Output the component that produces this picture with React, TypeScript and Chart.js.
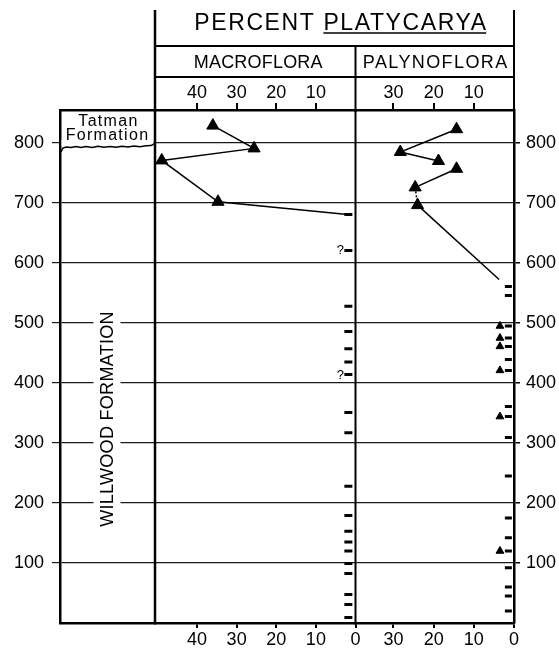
import React, { useEffect, useRef } from "react";
import { Chart, registerables } from "chart.js";
Chart.register(...registerables);

const FONT = "'Liberation Sans', Arial, Helvetica, sans-serif";

// Stratigraphic level (m) tick labels
const depthTicks = [100, 200, 300, 400, 500, 600, 700, 800];
const depthMax = 855;

// Percent axes
const macroTicksBottom = [40, 30, 20, 10, 0];
const macroTicksTop = [40, 30, 20, 10];
const macroMax = 50.6;
const palynoTicksBottom = [30, 20, 10, 0];
const palynoTicksTop = [30, 20, 10];
const palynoMax = 39.45;

// Macroflora percent Platycarya (last point is the line end, no marker)
const macroPercent = [36, 25.6, 48.9, 34.7, 2];
const macroDepth = [829, 791, 771, 702, 681];
const macroHasMarker = [true, true, true, true, false];

// Palynoflora percent Platycarya (last point is the line end, no marker)
const palynoPercent = [14.3, 28.3, 18.8, 14.3, 24.6, 24, 3.7];
const palynoDepth = [823, 785, 770, 757, 726, 696.5, 572.5];
const palynoHasMarker = [true, true, true, true, true, true, false];

// Samples without Platycarya (dashes)
const macroSampleValue = 1.8;
const macroSampleDepths = [681, 621, 528, 486, 457, 435, 414, 351, 317, 228, 179, 153, 135, 120, 99, 82.5, 47.5, 31, 9];
const macroQueryDepths = [621, 414];
const palynoSampleValue = 1.4;
const palynoSampleDepths = [561, 546, 495, 475, 461, 439, 421, 361, 344, 309, 245, 175, 142, 120, 92, 60, 45, 20];

// Trace occurrences (small triangles)
const palynoTraceValue = 3.5;
const palynoTraceDepths = [495, 475, 461, 421, 344, 120];

const wavyOffsets = [
  [1, 9], [3, 5], [6, 4], [11, 4.6], [16, 3.4], [21, 4.4], [26, 3.6], [32, 4.5], [38, 3.3],
  [44, 4.2], [50, 3.4], [56, 4.3], [62, 3.2], [68, 4], [74, 3.1], [80, 3.8], [86, 2.8], [91, 2.6], [94, 1],
];

const headerPlugin = {
  id: "header",
  afterDraw(chart: any) {
    const { ctx, chartArea, scales } = chart;
    const xm = scales.xm;
    const xp = scales.xp;
    const y = scales.y;
    const left = xm.left;
    const mid = xp.left;
    const right = xp.right;
    const top = chartArea.top;
    const bottom = chartArea.bottom;
    const colL = chartArea.left;
    const line = (x1: number, y1: number, x2: number, y2: number) => {
      ctx.beginPath();
      ctx.moveTo(x1, y1);
      ctx.lineTo(x2, y2);
      ctx.stroke();
    };
    ctx.save();
    ctx.strokeStyle = "#000";
    ctx.fillStyle = "#000";

    // Formation column: hide straight 800 line, draw unconformity
    const y800 = y.getPixelForValue(800);
    ctx.fillStyle = "#fff";
    ctx.fillRect(colL + 1.5, y800 - 3, left - colL - 3, 6);
    ctx.strokeStyle = "#000";
    ctx.lineWidth = 1.5;
    ctx.beginPath();
    wavyOffsets.forEach(([dx, dy], i) => {
      if (i === 0) ctx.moveTo(colL + dx, y800 + dy);
      else ctx.lineTo(colL + dx, y800 + dy);
    });
    ctx.stroke();

    ctx.fillStyle = "#000";
    ctx.textAlign = "center";
    ctx.textBaseline = "alphabetic";
    ctx.font = `16px ${FONT}`;
    (ctx as any).letterSpacing = "1.3px";
    const cx = (colL + left) / 2;
    ctx.fillText("Tatman", cx + 1, 126);
    ctx.fillText("Formation", cx, 140);

    // Willwood label with gap in grid lines
    ctx.fillStyle = "#fff";
    ctx.fillRect(cx - 14, 305, 27, 228);
    ctx.fillStyle = "#000";
    ctx.save();
    ctx.translate(cx + 0.5, 419);
    ctx.rotate(-Math.PI / 2);
    ctx.font = `18px ${FONT}`;
    (ctx as any).letterSpacing = "0.3px";
    ctx.textBaseline = "middle";
    ctx.fillText("WILLWOOD FORMATION", 0, 0);
    ctx.restore();

    // Frame lines
    ctx.lineWidth = 2.5;
    line(left, 10, left, bottom);
    ctx.lineWidth = 2;
    line(right, 10, right, top);
    line(left, 46, right, 46);
    line(left, 77, right, 77);
    line(mid, 46, mid, bottom);

    // Title
    ctx.font = `23px ${FONT}`;
    (ctx as any).letterSpacing = "1.6px";
    ctx.textAlign = "left";
    ctx.textBaseline = "alphabetic";
    const t1 = "PERCENT ";
    const t2 = "PLATYCARYA";
    const w1 = ctx.measureText(t1).width;
    const w2 = ctx.measureText(t2).width;
    const x0 = 341 - (w1 + w2) / 2;
    ctx.fillText(t1, x0, 30);
    ctx.fillText(t2, x0 + w1, 30);
    ctx.lineWidth = 1.5;
    line(x0 + w1, 33, x0 + w1 + w2 - 1.5, 33);

    ctx.font = `18px ${FONT}`;
    ctx.textAlign = "center";
    (ctx as any).letterSpacing = "0.2px";
    ctx.fillText("MACROFLORA", (left + mid) / 2 + 3, 68);
    (ctx as any).letterSpacing = "1.4px";
    ctx.fillText("PALYNOFLORA", (mid + right) / 2 + 1, 68);

    // Question marks beside uncertain samples
    (ctx as any).letterSpacing = "0px";
    ctx.font = `13px ${FONT}`;
    ctx.textAlign = "right";
    ctx.textBaseline = "middle";
    const qx = xm.getPixelForValue(macroSampleValue) - 4.5;
    macroQueryDepths.forEach((d) => {
      ctx.fillText("?", qx, y.getPixelForValue(d) + 0.5);
    });
    ctx.restore();
  },
};

const tickFont = { family: FONT, size: 18 };

function fixedTicks(values: number[]) {
  return (scale: any) => {
    scale.ticks = values.map((v) => ({ value: v }));
  };
}

export default function App() {
  const ref = useRef<HTMLCanvasElement | null>(null);
  useEffect(() => {
    if (!ref.current) return;
    const toPts = (xs: number[], ys: number[]) => xs.map((x, i) => ({ x, y: ys[i] }));
    const chart = new Chart(ref.current, {
      type: "scatter",
      data: {
        datasets: [
          {
            label: "Macroflora",
            data: toPts(macroPercent, macroDepth),
            xAxisID: "xm",
            yAxisID: "y",
            showLine: true,
            borderColor: "#000",
            borderWidth: 1.5,
            backgroundColor: "#000",
            pointStyle: "triangle",
            pointRadius: (c: any) => (macroHasMarker[c.dataIndex] ? 7 : 0),
            pointBorderWidth: 1,
          } as any,
          {
            label: "Palynoflora",
            data: toPts(palynoPercent, palynoDepth),
            xAxisID: "xp",
            yAxisID: "y",
            showLine: true,
            borderColor: "#000",
            borderWidth: 1.5,
            backgroundColor: "#000",
            pointStyle: "triangle",
            pointRadius: (c: any) => (palynoHasMarker[c.dataIndex] ? 7 : 0),
            pointBorderWidth: 1,
            segment: {
              borderColor: (c: any) => (c.p0DataIndex === 2 ? "rgba(0,0,0,0)" : "#000"),
              borderDash: (c: any) => (c.p0DataIndex === 4 ? [2, 2] : undefined),
            },
          } as any,
          {
            label: "Palynoflora trace",
            data: palynoTraceDepths.map((d) => ({ x: palynoTraceValue, y: d })),
            xAxisID: "xp",
            yAxisID: "y",
            pointStyle: "triangle",
            pointRadius: 4.5,
            backgroundColor: "#000",
            borderColor: "#000",
            pointBorderWidth: 1,
          } as any,
          {
            label: "Macroflora samples",
            data: macroSampleDepths.map((d) => ({ x: macroSampleValue, y: d })),
            xAxisID: "xm",
            yAxisID: "y",
            pointStyle: "line",
            pointRadius: 4,
            borderColor: "#000",
            pointBorderWidth: 3,
          } as any,
          {
            label: "Palynoflora samples",
            data: palynoSampleDepths.map((d) => ({ x: palynoSampleValue, y: d })),
            xAxisID: "xp",
            yAxisID: "y",
            pointStyle: "line",
            pointRadius: 3.5,
            borderColor: "#000",
            pointBorderWidth: 3,
          } as any,
        ],
      },
      options: {
        responsive: false,
        maintainAspectRatio: false,
        devicePixelRatio: 1,
        animation: false,
        layout: { padding: { top: 78, left: 0, right: 0, bottom: 0 } },
        plugins: { legend: { display: false }, tooltip: { enabled: false }, title: { display: false } },
        scales: {
          y: {
            type: "linear",
            position: "left",
            min: 0,
            max: depthMax,
            afterBuildTicks: fixedTicks(depthTicks),
            afterFit: (s: any) => { s.width = 60; },
            grid: { color: "#1a1a1a", lineWidth: 1.2, tickLength: 8, drawTicks: true },
            border: { display: true, color: "#000", width: 2.5 },
            ticks: { font: tickFont, color: "#000", padding: 8 },
          },
          yR: {
            type: "linear",
            position: "right",
            min: 0,
            max: depthMax,
            afterBuildTicks: fixedTicks(depthTicks),
            afterFit: (s: any) => { s.width = 45; },
            grid: { drawOnChartArea: false, color: "#000", lineWidth: 1.5, tickLength: 6 },
            border: { display: true, color: "#000", width: 2.5 },
            ticks: { font: tickFont, color: "#000", padding: 6 },
          },
          fB: {
            type: "linear",
            position: "bottom",
            stack: "bottom",
            stackWeight: 95,
            min: 0,
            max: 1,
            afterFit: (s: any) => { s.height = 25; },
            grid: { display: false },
            ticks: { display: false },
            border: { display: true, color: "#000", width: 2.5 },
          },
          xm: {
            type: "linear",
            position: "bottom",
            stack: "bottom",
            stackWeight: 200.5,
            min: 0,
            max: macroMax,
            reverse: true,
            afterBuildTicks: fixedTicks(macroTicksBottom),
            afterFit: (s: any) => { s.height = 25; },
            grid: { drawOnChartArea: false, color: "#000", lineWidth: 2, tickLength: 5 },
            border: { display: true, color: "#000", width: 2.5 },
            ticks: { font: tickFont, color: "#000", padding: 1, maxRotation: 0, autoSkip: false },
          },
          xp: {
            type: "linear",
            position: "bottom",
            stack: "bottom",
            stackWeight: 158.5,
            min: 0,
            max: palynoMax,
            reverse: true,
            afterBuildTicks: fixedTicks(palynoTicksBottom),
            afterFit: (s: any) => { s.height = 25; },
            grid: { drawOnChartArea: false, color: "#000", lineWidth: 2, tickLength: 5 },
            border: { display: true, color: "#000", width: 2.5 },
            ticks: { font: tickFont, color: "#000", padding: 1, maxRotation: 0, autoSkip: false },
          },
          // Top boxes are laid out in reverse order by Chart.js, so they are declared right-to-left
          xpT: {
            type: "linear",
            position: "top",
            stack: "top",
            stackWeight: 158.5,
            min: 0,
            max: palynoMax,
            reverse: true,
            afterBuildTicks: fixedTicks(palynoTicksTop),
            afterFit: (s: any) => { s.height = 32; },
            grid: { drawOnChartArea: false, color: "#000", lineWidth: 2, tickLength: 7 },
            border: { display: true, color: "#000", width: 2.5 },
            ticks: { font: tickFont, color: "#000", padding: -1, maxRotation: 0, autoSkip: false },
          },
          xmT: {
            type: "linear",
            position: "top",
            stack: "top",
            stackWeight: 200.5,
            min: 0,
            max: macroMax,
            reverse: true,
            afterBuildTicks: fixedTicks(macroTicksTop),
            afterFit: (s: any) => { s.height = 32; },
            grid: { drawOnChartArea: false, color: "#000", lineWidth: 2, tickLength: 7 },
            border: { display: true, color: "#000", width: 2.5 },
            ticks: { font: tickFont, color: "#000", padding: -1, maxRotation: 0, autoSkip: false },
          },
          fT: {
            type: "linear",
            position: "top",
            stack: "top",
            stackWeight: 95,
            min: 0,
            max: 1,
            afterFit: (s: any) => { s.height = 32; },
            grid: { display: false },
            ticks: { display: false },
            border: { display: true, color: "#000", width: 2.5 },
          },
        },
      } as any,
      plugins: [headerPlugin as any],
    });
    return () => chart.destroy();
  }, []);
  return (
    <div style={{ position: "absolute", left: 0, top: 0, width: 559, height: 648, background: "#fff" }}>
      <canvas ref={ref} width={559} height={648} style={{ display: "block", width: 559, height: 648 }} />
    </div>
  );
}
